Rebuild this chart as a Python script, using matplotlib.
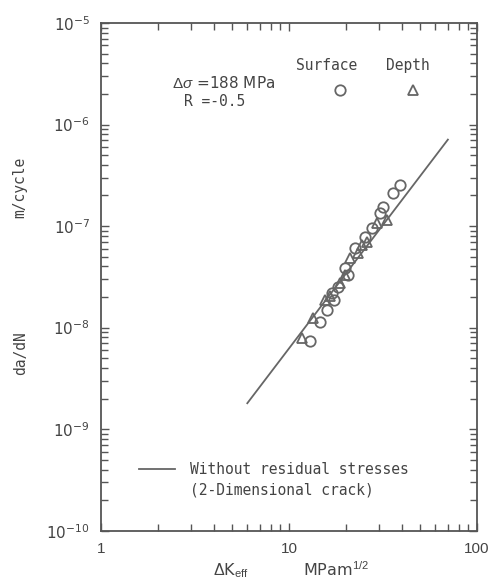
import matplotlib
matplotlib.use("Agg")
import matplotlib.pyplot as plt
from matplotlib.lines import Line2D
from matplotlib.ticker import LogLocator, LogFormatterSciNotation, NullFormatter, FixedLocator, FixedFormatter

# ---- data ----
surface_dk = [12.9, 14.6, 15.9, 17.3, 16.9, 18.2, 20.6, 19.9, 22.4, 25.4, 27.6, 30.5, 31.6, 35.7, 38.9]
surface_rate = [7.4e-9, 1.14e-8, 1.49e-8, 1.87e-8, 2.2e-8, 2.52e-8, 3.3e-8, 3.9e-8, 6.1e-8, 7.8e-8, 9.6e-8, 1.35e-7, 1.55e-7, 2.12e-7, 2.55e-7]

depth_dk = [11.7, 13.4, 15.5, 16.5, 18.7, 19.9, 21.1, 23.3, 24.4, 26.0, 29.4, 33.2]
depth_rate = [7.9e-9, 1.25e-8, 1.87e-8, 2.05e-8, 2.76e-8, 3.3e-8, 4.86e-8, 5.45e-8, 6.5e-8, 7.0e-8, 1.08e-7, 1.15e-7]

line_dk = [6.0, 70.0]
line_rate = [1.8e-9, 7.1e-7]

x_ticks = [1, 10, 100]
x_ticklabels = ["1", "10", "100"]

plt.rcParams["mathtext.fontset"] = "custom"
plt.rcParams["mathtext.rm"] = "Liberation Sans"
plt.rcParams["mathtext.it"] = "Liberation Sans:italic"
plt.rcParams["mathtext.bf"] = "Liberation Sans:bold"

gray = "#555555"
fig = plt.figure(figsize=(4.94, 5.86), dpi=100)
ax = fig.add_axes([0.2045, 0.0944, 0.7611, 0.8664])

ax.set_xscale("log")
ax.set_yscale("log")
ax.set_xlim(1, 100)
ax.set_ylim(1e-10, 1e-5)

ax.plot(line_dk, line_rate, color="#666666", lw=1.3)
ax.plot(surface_dk, surface_rate, linestyle="none", marker="o", ms=7.5,
        mfc="none", mec="#666666", mew=1.3)
ax.plot(depth_dk, depth_rate, linestyle="none", marker="^", ms=7.5,
        mfc="none", mec="#666666", mew=1.3)

for s in ax.spines.values():
    s.set_color(gray)
    s.set_linewidth(1.3)

ax.xaxis.set_major_locator(FixedLocator(x_ticks))
ax.xaxis.set_major_formatter(FixedFormatter(x_ticklabels))
ax.xaxis.set_minor_locator(LogLocator(base=10, subs=range(2, 10)))
ax.xaxis.set_minor_formatter(NullFormatter())
ax.yaxis.set_major_locator(LogLocator(base=10, numticks=10))
ax.yaxis.set_major_formatter(LogFormatterSciNotation())
ax.yaxis.set_minor_locator(LogLocator(base=10, subs=range(2, 10), numticks=10))
ax.yaxis.set_minor_formatter(NullFormatter())

ax.tick_params(which="both", direction="in", top=True, right=True, color=gray, width=1.0,
               labelcolor="#444444", labelsize=11)
ax.tick_params(which="major", length=6)
ax.tick_params(which="minor", length=5)
ax.tick_params(axis="x", pad=8)
ax.tick_params(axis="y", pad=8)
for lab in ax.get_xticklabels():
    lab.set_fontfamily("Liberation Sans")

mono = "DejaVu Sans Mono"
txtc = "#444444"
# y labels
ax.text(-0.215, 0.677, "m/cycle", rotation=90, transform=ax.transAxes, ha="center", va="center",
        fontsize=10.5, family=mono, color=txtc)
ax.text(-0.215, 0.35, "da/dN", rotation=90, transform=ax.transAxes, ha="center", va="center",
        fontsize=10.5, family=mono, color=txtc)
# x label
ax.text(0.346, -0.078, r"$\Delta$K$_{\rm eff}$", transform=ax.transAxes, ha="center", va="center",
        fontsize=11.5, color=txtc)
ax.text(0.625, -0.076, r"MPam$^{1/2}$", transform=ax.transAxes, ha="center", va="center",
        fontsize=11.5, color=txtc)

# annotations
ax.text(0.327, 0.882, r"$\Delta\mathit{\sigma}$ =188 MPa", transform=ax.transAxes, ha="center",
        va="center", fontsize=11, color=txtc)
ax.text(0.303, 0.845, "R =-0.5", transform=ax.transAxes, ha="center", va="center",
        fontsize=10.5, family=mono, color=txtc)
ax.text(0.601, 0.917, "Surface", transform=ax.transAxes, ha="center", va="center",
        fontsize=10.5, family=mono, color=txtc)
ax.text(0.815, 0.917, "Depth", transform=ax.transAxes, ha="center", va="center",
        fontsize=10.5, family=mono, color=txtc)

key_handles = [Line2D([], [], linestyle="none", marker="o", ms=7.5, mfc="none", mec="#666666", mew=1.3),
               Line2D([], [], linestyle="none", marker="^", ms=7.5, mfc="none", mec="#666666", mew=1.3)]
leg1 = ax.legend(key_handles, ["", ""], ncol=2, loc="center", bbox_to_anchor=(0.733, 0.866),
                 frameon=False, handlelength=1.0, handletextpad=0.0, columnspacing=4.0,
                 fontsize=10.5, borderpad=0, borderaxespad=0)
ax.add_artist(leg1)

line_handles = [Line2D([], [], color="#666666", lw=1.3), Line2D([], [], color="none")]
ax.legend(line_handles, ["Without residual stresses", "(2-Dimensional crack)"],
          loc="upper left", bbox_to_anchor=(0.101, 0.135), frameon=False,
          handlelength=2.5, handletextpad=1.0, labelspacing=0.35,
          prop={"family": mono, "size": 10.5}, labelcolor=txtc, borderpad=0, borderaxespad=0)

fig.savefig("out.png", dpi=100)
